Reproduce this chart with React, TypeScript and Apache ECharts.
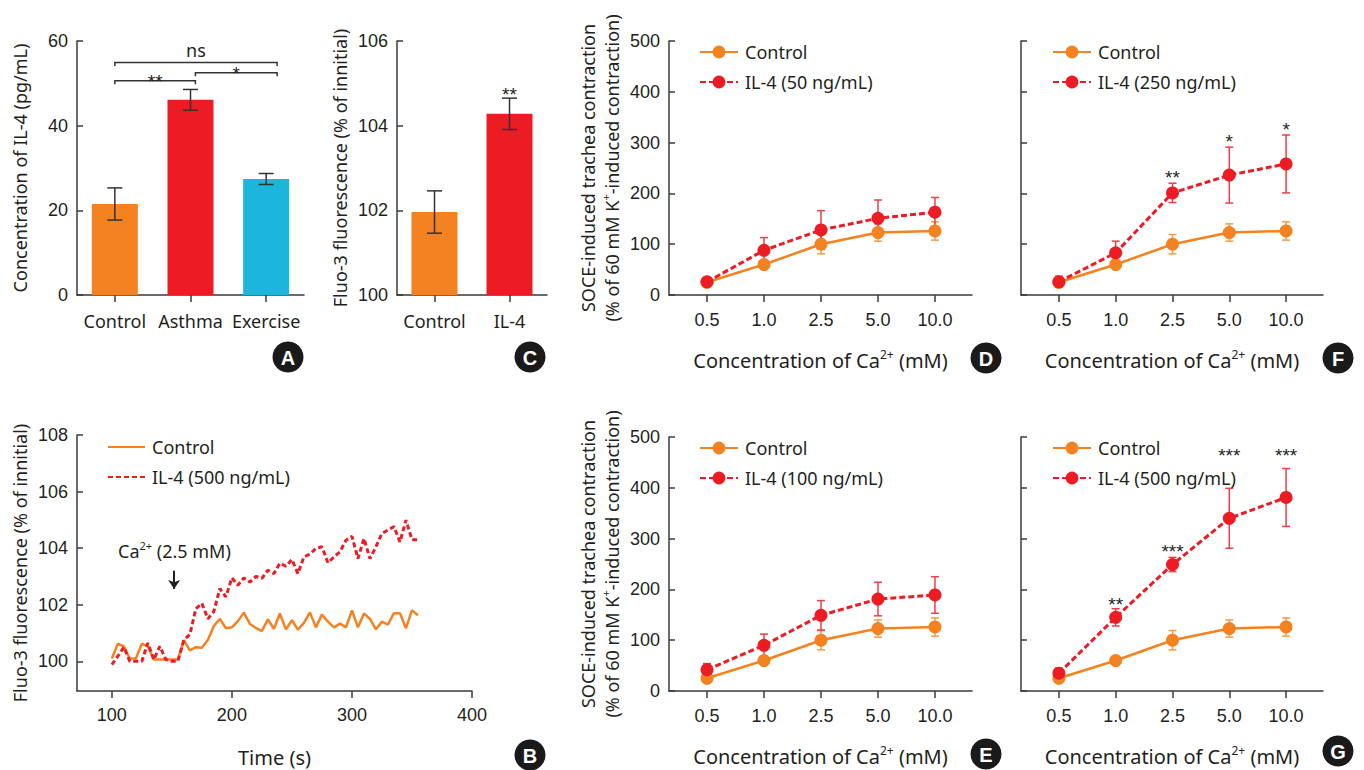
import React, { useEffect, useRef } from "react";
import * as echarts from "echarts";

const FONT = "'Noto Sans', 'Open Sans', sans-serif";
const NUMFONT = "'Liberation Sans', Arial, sans-serif";
const TXT = "#231f20";
const AXIS = "#3a3a3a";
const ORANGE = "#F58220";
const RED = "#ED1C24";
const CYAN = "#1CB5DC";
const ORANGE_ERR = "#F79B4A";
const RED_ERR = "#EE3E46";

// ---- Panel A: IL-4 concentration
const groupsA = ["Control", "Asthma", "Exercise"];
const il4Level = [21.5, 46.1, 27.4];
const il4LevelErr = [3.8, 2.45, 1.3];
const barColorsA = [ORANGE, RED, CYAN];
// [start category + fraction, end category + fraction, y value]
const bracketsA = [
  [0, 1.065, 50.6],
  [1.065, 2.145, 52.5],
  [0, 2.145, 54.9],
];
const bracketLabelsA = ["**", "*", "ns"];

// ---- Panel C: Fluo-3 bars
const groupsC = ["Control", "IL-4"];
const fluoBar = [101.96, 104.28];
const fluoBarErr = [0.5, 0.37];
const sigC = ["", "**"];
const sigCY = [0, 104.84];

// ---- Panel B: time course
const timeS = [
  100, 105, 110, 115, 120, 125, 130, 135, 140, 145, 150, 155, 160, 165, 170, 175, 180, 185, 190, 195,
  200, 205, 210, 215, 220, 225, 230, 235, 240, 245, 250, 255, 260, 265, 270, 275, 280, 285, 290, 295,
  300, 305, 310, 315, 320, 325, 330, 335, 340, 345, 350, 355,
];
const fluoControl = [
  100.1, 100.62, 100.53, 100.1, 100.1, 100.62, 100.53, 100.06, 100.06, 100.06, 100.06, 100.06, 100.75,
  100.39, 100.5, 100.48, 100.75, 101.25, 101.5, 101.17, 101.2, 101.42, 101.72, 101.32, 101.18, 101.07,
  101.48, 101.15, 101.69, 101.13, 101.45, 101.12, 101.36, 101.73, 101.2, 101.65, 101.4, 101.2, 101.33,
  101.2, 101.8, 101.2, 101.69, 101.5, 101.13, 101.4, 101.3, 101.7, 101.7, 101.17, 101.8, 101.63,
];
const fluoIL4 = [
  99.88, 100.18, 100.5, 100.0, 100.0, 100.0, 100.65, 100.06, 100.53, 100.06, 100.0, 100.0, 100.75,
  100.95, 101.86, 102.05, 101.5, 101.77, 102.57, 102.28, 102.95, 102.69, 102.95, 102.8, 103.0, 102.93,
  103.22, 103.1, 103.47, 103.36, 103.6, 103.1, 103.69, 103.79, 103.99, 104.05, 103.48, 103.69, 103.87,
  104.28, 104.42, 103.63, 104.34, 103.63, 104.05, 104.52, 104.64, 104.76, 104.22, 104.99, 104.3, 104.3,
];
const timeTicks = [100, 200, 300, 400];
const fluoTicks = [100, 102, 104, 106, 108];
const caArrow = [151.9, 103.2, 102.56]; // time, top, tip

// ---- Panels D-G: SOCE contraction
const caConc = ["0.5", "1.0", "2.5", "5.0", "10.0"];
const caIdx = [0, 1, 2, 3, 4];
const ctrl = [25, 60, 100, 123, 126];
const ctrlErr = [5, 8, 19, 17, 18];
const il4_50 = [26, 88, 128, 151, 163];
const il4_50Err = [9, 25, 38, 36, 29];
const il4_100 = [42, 90, 149, 181, 189];
const il4_100Err = [12, 22, 29, 33, 36];
const il4_250 = [26, 83, 201, 236, 258];
const il4_250Err = [11, 23, 19, 55, 57];
const il4_500 = [35, 145, 249, 340, 381];
const il4_500Err = [10, 17, 14, 59, 57];
const sig250 = ["", "", "**", "*", "*"];
const sig250Y = [0, 0, 241, 312, 335];
const sig500 = ["", "**", "***", "***", "***"];
const sig500Y = [0, 180, 284, 473, 473];

const panelLetters: [string, number, number][] = [
  ["A", 288, 357],
  ["C", 530, 357],
  ["B", 530, 755],
  ["D", 986, 358],
  ["F", 1338, 358],
  ["E", 986, 754],
  ["G", 1338, 751],
];

const supStyle = { fontSize: 11, fontFamily: FONT, color: TXT, verticalAlign: "top", lineHeight: 14 };
const supStyleBig = { fontSize: 12, fontFamily: FONT, color: TXT, verticalAlign: "top", lineHeight: 14 };

const axisLineStyle = { color: AXIS, width: 1.5 };
const STARFONT = `19px ${NUMFONT}`;
const STAR_SHIFT = 4.5; // text middle sits below the asterisk's visual centre

function yAxis(grid: number, min: number, max: number, interval: number | null, opts: any = {}) {
  const ax: any = {
    type: "value",
    gridIndex: grid,
    min,
    max,
    axisLine: { show: true, onZero: false, lineStyle: axisLineStyle },
    axisTick: { show: true, inside: true, length: 6, lineStyle: axisLineStyle },
    axisLabel: {
      show: opts.labels !== false,
      color: TXT,
      fontFamily: NUMFONT,
      fontSize: 18,
      margin: 9,
    },
    splitLine: { show: false },
  };
  if (interval != null) ax.interval = interval;
  if (opts.custom) {
    ax.axisTick.customValues = opts.custom;
    ax.axisLabel.customValues = opts.custom;
  }
  if (opts.name) {
    ax.name = opts.name;
    ax.nameLocation = "middle";
    ax.nameGap = opts.nameGap ?? 46;
    ax.nameTextStyle = {
      fontFamily: FONT,
      fontSize: 18,
      color: TXT,
      lineHeight: opts.lineHeight ?? 22,
      rich: { sup: { ...supStyle } },
    };
  }
  return ax;
}

function catXAxis(grid: number, data: string[]) {
  return {
    type: "category",
    gridIndex: grid,
    data,
    boundaryGap: true,
    axisLine: { show: true, onZero: false, lineStyle: axisLineStyle },
    axisTick: { show: true, alignWithLabel: true, interval: 0, length: 7, lineStyle: axisLineStyle },
    axisLabel: { interval: 0, color: TXT, fontFamily: FONT, fontSize: 18, margin: 15, lineHeight: 22 },
    splitLine: { show: false },
  };
}

function caXAxis(grid: number) {
  return {
    type: "value",
    gridIndex: grid,
    min: -0.667,
    max: 4.65,
    axisLine: { show: true, onZero: false, lineStyle: axisLineStyle },
    axisTick: { show: true, length: 7, customValues: caIdx, lineStyle: axisLineStyle },
    axisLabel: {
      customValues: caIdx,
      formatter: (v: number) => caConc[Math.round(v)],
      color: TXT,
      fontFamily: NUMFONT,
      fontSize: 18,
      margin: 14,
      lineHeight: 22,
    },
    splitLine: { show: false },
    name: "Concentration of Ca{sup|2+} (mM)",
    nameLocation: "middle",
    nameGap: 53,
    nameTextStyle: { fontFamily: FONT, fontSize: 20, color: TXT, lineHeight: 24, rich: { sup: { ...supStyleBig } } },
  };
}

function errSeries(
  grid: number,
  vals: number[],
  errs: number[],
  color: string,
  capHalf: number,
  sig: string[] | null,
  sigY: number[] | null,
  z: number
) {
  return {
    type: "custom",
    xAxisIndex: grid,
    yAxisIndex: grid,
    z,
    silent: true,
    data: vals.map((v, i) => [i, v - errs[i], v + errs[i]]),
    renderItem: (params: any, api: any) => {
      const x = api.value(0);
      const top = api.coord([x, api.value(2)]);
      const bot = api.coord([x, api.value(1)]);
      const st = { stroke: color, lineWidth: 1.5 };
      const children: any[] = [
        { type: "line", shape: { x1: top[0], y1: top[1], x2: bot[0], y2: bot[1] }, style: st },
        { type: "line", shape: { x1: top[0] - capHalf, y1: top[1], x2: top[0] + capHalf, y2: top[1] }, style: st },
        { type: "line", shape: { x1: bot[0] - capHalf, y1: bot[1], x2: bot[0] + capHalf, y2: bot[1] }, style: st },
      ];
      const s = sig ? sig[params.dataIndex] : "";
      if (s && sigY) {
        const p = api.coord([x, sigY[params.dataIndex]]);
        children.push({
          type: "text",
          x: p[0],
          y: p[1] + STAR_SHIFT,
          style: {
            text: s,
            fill: TXT,
            font: STARFONT,
            lineHeight: 11,
            align: "center",
            verticalAlign: "middle",
          },
        });
      }
      return { type: "group", children };
    },
  };
}

function lineSeries(grid: number, name: string, vals: number[], color: string, dashed: boolean, z: number) {
  return {
    type: "line",
    name,
    xAxisIndex: grid,
    yAxisIndex: grid,
    z,
    data: vals.map((v, i) => [caIdx[i], v]),
    symbol: "circle",
    symbolSize: 13,
    lineStyle: { color, width: dashed ? 3 : 2.5, type: dashed ? [6, 3] : "solid" },
    itemStyle: { color },
  };
}

function legend(left: number, top: number, names: any[]) {
  return {
    orient: "vertical",
    left,
    top,
    padding: 0,
    itemWidth: 38,
    itemHeight: 16,
    itemGap: 12,
    selectedMode: false,
    data: names,
    formatter: (n: string) => n.split("|")[0],
    textStyle: { fontFamily: FONT, fontSize: 18, color: TXT, lineHeight: 18, padding: [0, 0, 0, 2] },
  };
}

const socePanels = [
  { grid: 3, il4: il4_50, err: il4_50Err, label: "IL-4 (50 ng/mL)", sig: null as string[] | null, sigY: null as number[] | null, key: "D" },
  { grid: 4, il4: il4_250, err: il4_250Err, label: "IL-4 (250 ng/mL)", sig: sig250, sigY: sig250Y, key: "F" },
  { grid: 5, il4: il4_100, err: il4_100Err, label: "IL-4 (100 ng/mL)", sig: null, sigY: null, key: "E" },
  { grid: 6, il4: il4_500, err: il4_500Err, label: "IL-4 (500 ng/mL)", sig: sig500, sigY: sig500Y, key: "G" },
];

const soceYName = "SOCE-induced trachea contraction\n(% of 60 mM K{sup|+}-induced contraction)";

function buildOption() {
  const grids = [
    { left: 77, top: 41, width: 227, height: 254 }, // A
    { left: 397, top: 41, width: 150, height: 254 }, // C
    { left: 77, top: 435, width: 395, height: 256 }, // B
    { left: 669, top: 41, width: 303, height: 254 }, // D
    { left: 1021, top: 41, width: 302, height: 254 }, // F
    { left: 669, top: 437, width: 303, height: 254 }, // E
    { left: 1021, top: 437, width: 302, height: 254 }, // G
  ].map((g) => ({ ...g, containLabel: false, outerBoundsMode: "none" }));

  const xAxes: any[] = [
    catXAxis(0, groupsA),
    catXAxis(1, groupsC),
    {
      type: "value",
      gridIndex: 2,
      min: 71,
      max: 400,
      axisLine: { show: true, onZero: false, lineStyle: axisLineStyle },
      axisTick: { show: true, length: 7, customValues: timeTicks, lineStyle: axisLineStyle },
      axisLabel: { customValues: timeTicks, color: TXT, fontFamily: NUMFONT, fontSize: 18, margin: 13, lineHeight: 22 },
      splitLine: { show: false },
      name: "Time (s)",
      nameLocation: "middle",
      nameGap: 54,
      nameTextStyle: { fontFamily: FONT, fontSize: 20, color: TXT, lineHeight: 24 },
    },
    caXAxis(3),
    caXAxis(4),
    caXAxis(5),
    caXAxis(6),
  ];

  const yAxes: any[] = [
    yAxis(0, 0, 60, 20, { name: "Concentration of IL-4 (pg/mL)" }),
    yAxis(1, 100, 106, 2, { name: "Fluo-3 fluorescence (% of innitial)" }),
    yAxis(2, 98.95, 108, null, { custom: fluoTicks, name: "Fluo-3 fluorescence (% of innitial)" }),
    yAxis(3, 0, 500, 100, { name: soceYName, lineHeight: 24, nameGap: 45 }),
    yAxis(4, 0, 500, 100, { labels: false }),
    yAxis(5, 0, 500, 100, { name: soceYName, lineHeight: 24, nameGap: 45 }),
    yAxis(6, 0, 500, 100, { labels: false }),
  ];

  const series: any[] = [];

  // Panel A
  series.push({
    type: "bar",
    name: "IL-4 level",
    xAxisIndex: 0,
    yAxisIndex: 0,
    barWidth: 46,
    data: il4Level.map((v, i) => ({ value: v, itemStyle: { color: barColorsA[i] } })),
    z: 2,
  });
  series.push(errSeries(0, il4Level, il4LevelErr, "#333333", 7.5, null, null, 3));
  series.push({
    type: "custom",
    xAxisIndex: 0,
    yAxisIndex: 0,
    silent: true,
    z: 4,
    data: bracketsA.map((b) => [0, b[2]]),
    renderItem: (params: any, api: any) => {
      const b = bracketsA[params.dataIndex];
      const base = api.coord([0, b[2]]);
      const band = api.size([1, 0])[0];
      const x1 = base[0] + b[0] * band;
      const x2 = base[0] + b[1] * band;
      const y = base[1];
      const drop = 3.5;
      const label = bracketLabelsA[params.dataIndex];
      const isNs = label === "ns";
      return {
        type: "group",
        children: [
          {
            type: "polyline",
            shape: { points: [[x1, y + drop], [x1, y], [x2, y], [x2, y + drop]] },
            style: { stroke: "#333333", lineWidth: 1.5, fill: "none" },
          },
          {
            type: "text",
            x: (x1 + x2) / 2,
            y: isNs ? y - 13 : y + 0.5,
            style: {
              text: label,
              fill: TXT,
              font: isNs ? `18px ${FONT}` : STARFONT,
              lineHeight: isNs ? 18 : 11,
              align: "center",
              verticalAlign: "middle",
            },
          },
        ],
      };
    },
  });

  // Panel C
  series.push({
    type: "bar",
    name: "Fluo-3",
    xAxisIndex: 1,
    yAxisIndex: 1,
    barWidth: 46,
    data: fluoBar.map((v, i) => ({ value: v, itemStyle: { color: [ORANGE, RED][i] } })),
    z: 2,
  });
  series.push(errSeries(1, fluoBar, fluoBarErr, "#333333", 7.5, sigC, sigCY, 3));

  // Panel B
  series.push({
    type: "line",
    name: "Control|B",
    xAxisIndex: 2,
    yAxisIndex: 2,
    data: timeS.map((t, i) => [t, fluoControl[i]]),
    symbol: "none",
    lineStyle: { color: ORANGE, width: 2.5 },
    itemStyle: { color: ORANGE },
    z: 2,
  });
  series.push({
    type: "line",
    name: "IL-4 (500 ng/mL)|B",
    xAxisIndex: 2,
    yAxisIndex: 2,
    data: timeS.map((t, i) => [t, fluoIL4[i]]),
    symbol: "none",
    lineStyle: { color: RED, width: 3, type: [5, 3] },
    itemStyle: { color: RED },
    z: 3,
    markLine: {
      silent: true,
      symbol: ["none", "arrow"],
      symbolSize: [9, 9],
      lineStyle: { color: TXT, width: 2, type: "solid" },
      label: { show: false },
      emphasis: { disabled: true },
      data: [[{ coord: [caArrow[0], caArrow[1]] }, { coord: [caArrow[0], caArrow[2]] }]],
    },
  });

  // Panels D-G
  socePanels.forEach((p) => {
    series.push(errSeries(p.grid, ctrl, ctrlErr, ORANGE_ERR, 4, null, null, 1));
    series.push(errSeries(p.grid, p.il4, p.err, RED_ERR, 4, p.sig, p.sigY, 1));
    series.push(lineSeries(p.grid, "Control|" + p.key, ctrl, ORANGE, false, 3));
    series.push(lineSeries(p.grid, p.label + "|" + p.key, p.il4, RED, true, 4));
  });

  const hidden = { opacity: 0, color: "rgba(0,0,0,0)", borderWidth: 0 };
  const legends: any[] = [
    legend(107, 438, [
      { name: "Control|B", itemStyle: hidden },
      { name: "IL-4 (500 ng/mL)|B", itemStyle: hidden },
    ]),
    legend(699, 43, ["Control|D", "IL-4 (50 ng/mL)|D"]),
    legend(1052, 43, ["Control|F", "IL-4 (250 ng/mL)|F"]),
    legend(699, 439, ["Control|E", "IL-4 (100 ng/mL)|E"]),
    legend(1052, 439, ["Control|G", "IL-4 (500 ng/mL)|G"]),
  ];
  legends[0].itemWidth = 37;

  const graphic: any[] = panelLetters.map(([ch, x, y]) => ({
    type: "group",
    silent: true,
    children: [
      { type: "circle", shape: { cx: x, cy: y, r: 15.5 }, style: { fill: "#1a1a1a" } },
      {
        type: "text",
        x,
        y: y + 0.5,
        style: {
          text: ch,
          fill: "#ffffff",
          font: `bold 20px ${NUMFONT}`,
          align: "center",
          verticalAlign: "middle",
        },
      },
    ],
  }));
  graphic.push({
    type: "text",
    x: 118,
    y: 551,
    silent: true,
    style: {
      text: "Ca{sup|2+} (2.5 mM)",
      fill: TXT,
      font: `18px ${FONT}`,
      verticalAlign: "middle",
      lineHeight: 22,
      rich: { sup: { ...supStyle } },
    },
  });

  return {
    animation: false,
    backgroundColor: "#ffffff",
    textStyle: { fontFamily: FONT },
    grid: grids,
    xAxis: xAxes,
    yAxis: yAxes,
    legend: legends,
    series,
    graphic,
  };
}

export default function App() {
  const ref = useRef<HTMLDivElement>(null);
  useEffect(() => {
    document.body.style.margin = "0";
    const chart = echarts.init(ref.current as HTMLDivElement, null, { renderer: "svg" });
    chart.setOption(buildOption() as any);
    return () => chart.dispose();
  }, []);
  return <div ref={ref} style={{ width: 1364, height: 770 }} />;
}
